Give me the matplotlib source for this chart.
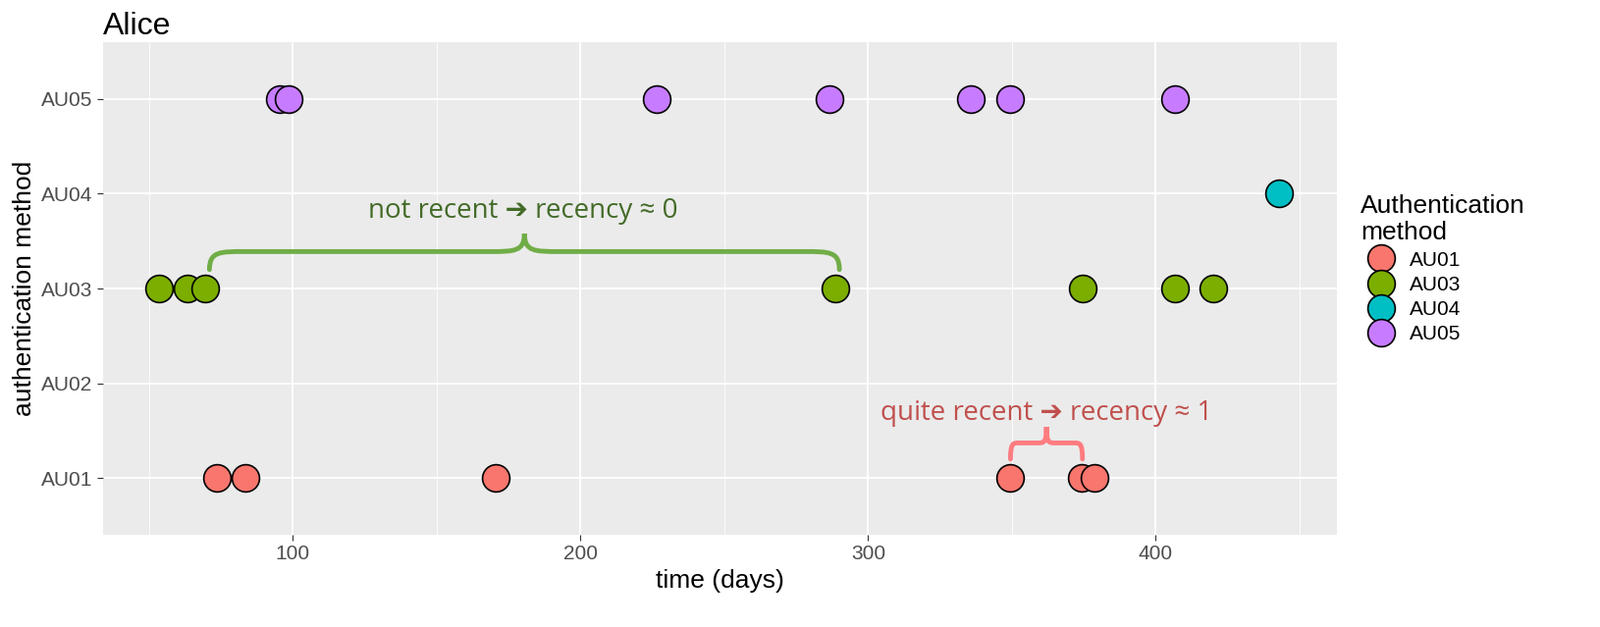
import matplotlib.pyplot as plt
import numpy as np
from matplotlib.path import Path
from matplotlib.patches import PathPatch
from matplotlib.lines import Line2D

plt.rcParams['font.family'] = ['Liberation Sans', 'DejaVu Sans']

methods = ['AU01', 'AU02', 'AU03', 'AU04', 'AU05']
colors = {'AU01': '#F8766D', 'AU03': '#7CAE00', 'AU04': '#00BFC4', 'AU05': '#C77CFF'}

au01_days = [73.7, 83.6, 170.6, 349.5, 374.4, 378.8]
au03_days = [53.6, 63.5, 69.6, 288.7, 374.7, 406.8, 420.1]
au04_days = [443.0]
au05_days = [95.6, 98.5, 226.6, 286.7, 335.8, 349.5, 406.8]

events = {'AU01': au01_days, 'AU03': au03_days, 'AU04': au04_days, 'AU05': au05_days}

fig = plt.figure(figsize=(16.3, 6.39), dpi=100)
ax = fig.add_axes([0.0644, 0.147, 0.7712, 0.7857])
ax.set_facecolor('#EBEBEB')

for m, days in events.items():
    yi = methods.index(m) + 1
    ax.scatter(days, [yi] * len(days), s=400, color=colors[m], edgecolor='black',
               linewidth=1.2, zorder=3)

ax.set_xlim(34, 463)
ax.set_ylim(0.4, 5.6)
ax.set_xticks([100, 200, 300, 400])
ax.set_xticks([50, 150, 250, 350, 450], minor=True)
ax.set_yticks(range(1, 6))
ax.set_yticklabels(methods)
ax.grid(True, which='major', color='white', linewidth=1.3, zorder=0)
ax.grid(True, which='minor', axis='x', color='white', linewidth=0.6, zorder=0)
ax.set_axisbelow(True)
for s in ax.spines.values():
    s.set_visible(False)
ax.tick_params(which='both', length=4, color='#333333', labelsize=15, labelcolor='#4D4D4D')
ax.tick_params(which='minor', length=0)
ax.set_xlabel('time (days)', fontsize=19)
ax.set_ylabel('authentication method', fontsize=19)
ax.set_title('Alice', loc='left', fontsize=23)


def brace(ax, x0, x1, y, h, color, lw):
    xm = (x0 + x1) / 2
    r = min((x1 - x0) * 0.12, 12)
    verts = [(x0, y), (x0, y + h * 0.5), (x0 + r * 0.3, y + h * 0.5), (x0 + r, y + h * 0.5),
             (xm - r, y + h * 0.5), (xm - r * 0.3, y + h * 0.5), (xm, y + h * 0.5), (xm, y + h),
             (xm, y + h * 0.5), (xm + r * 0.3, y + h * 0.5), (xm + r, y + h * 0.5),
             (x1 - r, y + h * 0.5), (x1 - r * 0.3, y + h * 0.5), (x1, y + h * 0.5), (x1, y)]
    codes = [Path.MOVETO, Path.CURVE4, Path.CURVE4, Path.CURVE4,
             Path.LINETO, Path.CURVE4, Path.CURVE4, Path.CURVE4,
             Path.CURVE4, Path.CURVE4, Path.CURVE4,
             Path.LINETO, Path.CURVE4, Path.CURVE4, Path.CURVE4]
    ax.add_patch(PathPatch(Path(verts, codes), fill=False, edgecolor=color, lw=lw,
                           capstyle='round', zorder=2))


brace(ax, 71, 290, 3.2, 0.38, '#70AD47', 3.5)
ax.text(180, 3.82, 'not recent \u2794 recency \u2248 0', ha='center', va='center',
        fontsize=20, color='#436B28', family=['Open Sans', 'DejaVu Sans'])
brace(ax, 349.5, 374.5, 1.2, 0.34, '#FF7C80', 3.5)
ax.text(362, 1.69, 'quite recent \u2794 recency \u2248 1', ha='center', va='center',
        fontsize=20, color='#C0504D', family=['Open Sans', 'DejaVu Sans'])

handles = [Line2D([], [], marker='o', linestyle='', markersize=20, markerfacecolor=colors[m],
                  markeredgecolor='black', markeredgewidth=1.2) for m in colors]
leg = fig.legend(handles, list(colors), title='Authentication\nmethod', loc='upper left',
                 bbox_to_anchor=(0.839, 0.72), frameon=False, fontsize=15,
                 title_fontsize=19, labelspacing=0.3, handletextpad=0.4)
leg._legend_box.align = 'left'

fig.savefig('out.png', dpi=100)
